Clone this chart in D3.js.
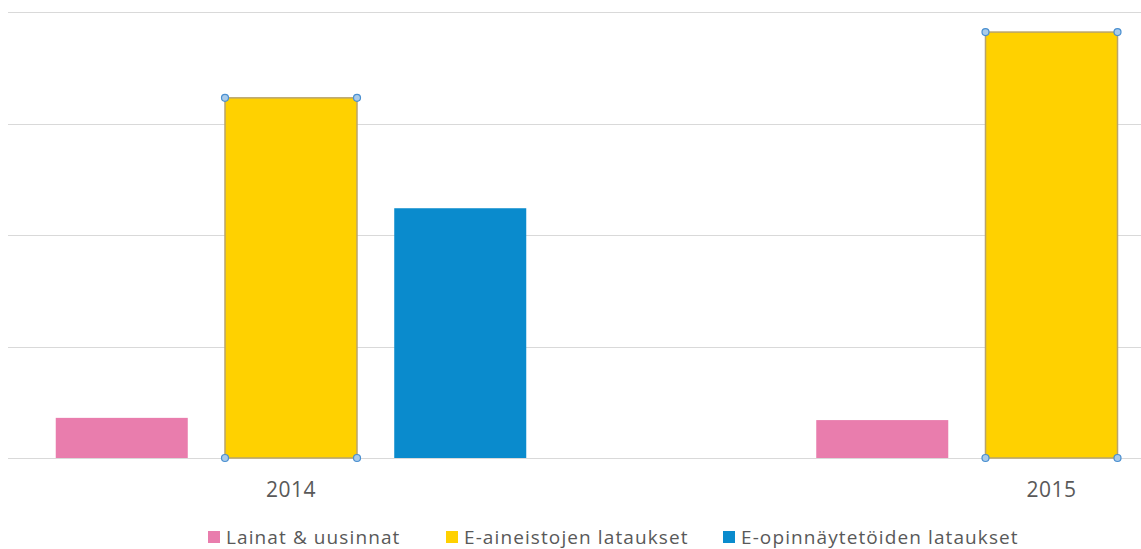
<!DOCTYPE html>
<html>
<head>
<meta charset="utf-8">
<script src="https://cdn.jsdelivr.net/npm/d3@7"></script>
<style>
  html, body { margin: 0; padding: 0; background: #fff; }
  svg { display: block; }
</style>
</head>
<body>
<svg id="chart" width="1141" height="549"></svg>
<script>
const years = ["2014", "2015"];
const seriesNames = ["Lainat & uusinnat", "E-aineistojen lataukset", "E-opinnäytetöiden lataukset"];
const lainat = [36000, 34000];
const eAineistot = [323000, 382000];
const eOpinnaytteet = [224000, 0];
const yTicks = [0, 100000, 200000, 300000, 400000];
const colors = ["#E97DAD", "#FFD100", "#0A8BCD"];

const seriesValues = [lainat, eAineistot, eOpinnaytteet];
const svg = d3.select("#chart");
const font = "'Open Sans', 'Liberation Sans', sans-serif";

const y = d3.scaleLinear().domain([0, 400000]).range([458, 12]);
const x0 = d3.scaleBand().domain(years).range([-89.75, 1431.25]).paddingInner(0).paddingOuter(0);
const x1 = d3.scaleBand().domain(seriesNames).range([145.5, 616]).paddingInner(0.22).paddingOuter(0);

// gridlines
svg.append("g").selectAll("line").data(yTicks).join("line")
  .attr("x1", 8).attr("x2", 1141)
  .attr("y1", d => Math.round(y(d)) + 0.5).attr("y2", d => Math.round(y(d)) + 0.5)
  .attr("stroke", "#D9D9D9").attr("stroke-width", 1);

// bars
const groups = svg.append("g").selectAll("g").data(years).join("g")
  .attr("transform", d => `translate(${x0(d)},0)`);

groups.each(function(year, yi) {
  const g = d3.select(this);
  seriesNames.forEach((s, si) => {
    const v = seriesValues[si][yi];
    if (!v) return;
    const bx = x1(s), bw = x1.bandwidth();
    g.append("rect")
      .attr("x", bx).attr("y", y(v))
      .attr("width", bw).attr("height", y(0) - y(v))
      .attr("fill", colors[si])
      .attr("stroke", si === 1 ? "#B9A46A" : "none")
      .attr("stroke-width", si === 1 ? 1.5 : 0);
    if (si === 1) {
      const corners = [[bx, y(v)], [bx + bw, y(v)], [bx, y(0)], [bx + bw, y(0)]];
      g.selectAll(null).data(corners).join("circle")
        .attr("cx", d => d[0]).attr("cy", d => d[1]).attr("r", 3.5)
        .attr("fill", "#A9CBEA").attr("stroke", "#4A8FD0").attr("stroke-width", 1.2);
    }
  });
});

// x axis labels
svg.append("g").selectAll("text").data(years).join("text")
  .attr("x", d => x0(d) + x1(seriesNames[1]) + x1.bandwidth() / 2)
  .attr("y", 497)
  .attr("text-anchor", "middle")
  .attr("font-family", font).attr("font-size", 21)
  .attr("letter-spacing", 0.5)
  .attr("fill", "#595959")
  .text(d => d);

// legend
const legend = svg.append("g");
const legendX = [208, 446, 723];
seriesNames.forEach((s, i) => {
  legend.append("rect")
    .attr("x", legendX[i]).attr("y", 531).attr("width", 12).attr("height", 12)
    .attr("fill", colors[i]);
  legend.append("text")
    .attr("x", legendX[i] + 18).attr("y", 544)
    .attr("font-family", font).attr("font-size", 19)
    .attr("letter-spacing", 1.1)
    .attr("fill", "#595959")
    .text(s);
});
</script>
</body>
</html>
